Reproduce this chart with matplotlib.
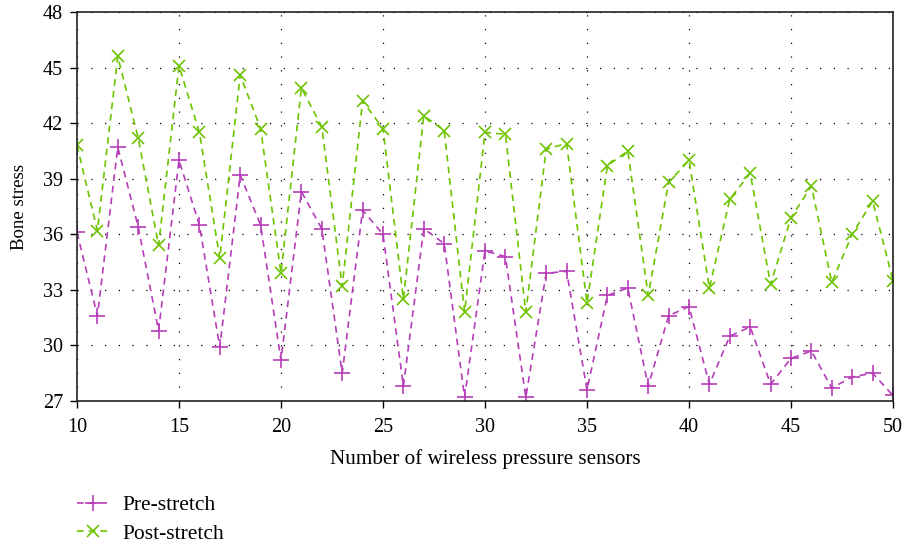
import matplotlib
matplotlib.use("Agg")
import matplotlib.pyplot as plt

# number of sensors and bone stress values
sensors = list(range(10, 51))
pre_stretch = [36.1, 31.6, 40.7, 36.4, 30.8, 40.0, 36.5, 29.9, 39.2, 36.5,
               29.2, 38.3, 36.3, 28.5, 37.3, 36.0, 27.8, 36.3, 35.5, 27.2,
               35.1, 34.8, 27.2, 33.9, 34.0, 27.6, 32.7, 33.1, 27.8, 31.6,
               32.1, 27.9, 30.5, 31.0, 27.9, 29.3, 29.7, 27.7, 28.3, 28.5,
               27.3]
post_stretch = [40.8, 36.2, 45.6, 41.2, 35.4, 45.1, 41.5, 34.7, 44.6, 41.7,
                33.9, 43.9, 41.8, 33.2, 43.2, 41.7, 32.5, 42.4, 41.6, 31.8,
                41.5, 41.4, 31.8, 40.6, 40.9, 32.3, 39.7, 40.5, 32.7, 38.8,
                40.0, 33.1, 37.9, 39.3, 33.3, 36.9, 38.6, 33.4, 36.0, 37.8,
                33.5]
series_names = ["Pre-stretch", "Post-stretch"]
x_ticks = [10, 15, 20, 25, 30, 35, 40, 45, 50]
y_ticks = [27, 30, 33, 36, 39, 42, 45, 48]

plt.rcParams['font.family'] = ['Liberation Serif', 'DejaVu Serif']

fig = plt.figure(figsize=(9.04, 5.45), dpi=100)
ax = fig.add_axes([77 / 904, 144 / 545, 816 / 904, 389 / 545])

ax.plot(sensors, pre_stretch, color='#B53DB8', linestyle='--', dashes=(4, 3),
        lw=1.2, marker='+', markersize=11, mew=1.2, label=series_names[0])
ax.plot(sensors, post_stretch, color='#6DC300', linestyle='--', dashes=(4, 3),
        lw=1.2, marker='x', markersize=9, mew=1.2, label=series_names[1])

ax.set_xlim(10, 50)
ax.set_ylim(27, 48)
ax.set_xticks(x_ticks)
ax.set_yticks(y_ticks)
ax.grid(True, color='black', linestyle=(0, (1, 10)), lw=0.9)
ax.tick_params(direction='out', length=5, width=1, top=False, right=False,
               labelsize=14.5)
ax.tick_params(axis='x', pad=7)
ax.tick_params(axis='y', pad=5)
for sp in ax.spines.values():
    sp.set_linewidth(1.2)
    sp.set_color('#222222')

ax.set_xlabel("Number of wireless pressure sensors", fontsize=15.2, labelpad=9)
ax.set_ylabel("Bone stress", fontsize=13.5, labelpad=11)

fig.legend(loc='upper left', bbox_to_anchor=(77 / 904, 1 - 495 / 545),
           frameon=False, handlelength=1.5, handletextpad=0.6,
           labelspacing=0.4, borderpad=0, borderaxespad=0, fontsize=15.5)

fig.savefig("out.png", dpi=100)
